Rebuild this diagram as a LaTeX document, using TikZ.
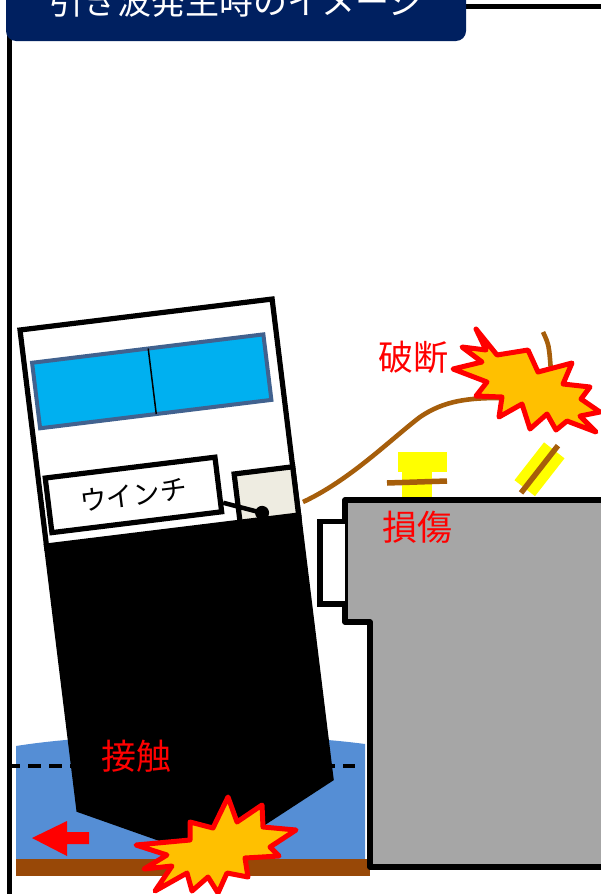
\documentclass[tikz,border=0pt]{standalone}
\usepackage{fontspec}
\newfontfamily\jpfont{Noto Sans CJK JP}
\definecolor{navy}{HTML}{002060}
\definecolor{seawater}{HTML}{558ED5}
\definecolor{seabed}{HTML}{984807}
\definecolor{piergray}{HTML}{A6A6A6}
\definecolor{winblue}{HTML}{00B0F0}
\definecolor{winframe}{HTML}{41628F}
\definecolor{beige}{HTML}{EEECE1}
\definecolor{ropebrown}{HTML}{A65E0B}
\definecolor{flashorange}{HTML}{FFC000}
\definecolor{bollardyellow}{HTML}{FFFF00}
\tikzset{
  outline/.style={draw=black, line width=5.2pt},
  flash/.style={draw=red, line width=5pt, fill=flashorange, line join=round},
  ropeline/.style={draw=ropebrown, line width=4.6pt},
  barline/.style={draw=ropebrown, line width=5.5pt},
  redlabel/.style={text=red, inner sep=0pt, font=\jpfont\fontsize{35}{35}\selectfont},
}
\begin{document}
\begin{tikzpicture}[x=1pt, y=-1pt]
\useasboundingbox (0,0) rectangle (600,894);

% frame and title plate
\draw[line width=5pt] (9,20) -- (9,900);
\draw[line width=5pt] (440,6.5) -- (610,6.5);
\fill[navy, rounded corners=10pt] (6,-20) rectangle (466,41);
\node[text=white, anchor=base, inner sep=0pt, font=\jpfont\fontsize{34}{34}\selectfont]
  (title) at (236,14) {引き波発生時のイメージ};

% sea, waterline and sea floor
\fill[seawater] (16,746) .. controls (60,739) and (120,735) .. (190,735)
  .. controls (260,735) and (320,738) .. (365,744) -- (365,860) -- (16,860) -- cycle;
\draw[line width=3.5pt, dash pattern=on 13pt off 8pt] (7,766) -- (355,766);
\fill[seabed] (16,859) rectangle (370,876);

% quay wall with fender
\draw[outline, fill=piergray, line join=round] (345,500) -- (620,500) -- (620,867)
  -- (370,867) -- (370,622) -- (345,622) -- cycle;
\draw[outline, fill=white] (345,521.5) -- (320,521.5) -- (320,604) -- (345,604);

% heeling vessel
\begin{scope}[shift={(20,330)}, rotate=7]
  \draw[outline, fill=white] (0,0) -- (254,0) -- (254,220) -- (0,220) -- cycle;
  \draw[line width=4pt, draw=winframe, fill=winblue]
    (8,34) -- (241,34) -- (241,100) -- (8,100) -- cycle;
  \draw[line width=1.5pt] (125,34) -- (125,100);
  \node[outline, fill=white, transform shape, minimum width=171pt, minimum height=55pt,
        inner sep=0pt, font=\jpfont\fontsize{27}{27}\selectfont]
    (winch) at (92.5,177.5) {ウインチ};
  \draw[outline, fill=beige] (195,220) -- (195,169) -- (254,169) -- (254,220);
  \fill[black] (-2.6,215) -- (256.6,215) -- (256.6,485) -- (126,549)
    -- (-2.6,485) -- cycle;
  \node[circle, fill=black, minimum size=14pt, inner sep=0pt] (drum) at (218,211) {};
  \draw[line width=4.5pt] (winch.-12) -- (drum.center);
\end{scope}

% mooring line, parted at the bollard
\coordinate (lineA) at (303,502);
\coordinate (lineB) at (500,398);
\draw[ropeline] (lineA) .. controls (350,480) and (390,440) .. (420,417)
  .. controls (445,400) and (470,398) .. (lineB);
\coordinate (tailA) at (543,332);
\coordinate (tailB) at (551,372);
\draw[ropeline] (tailA) .. controls (549,345) .. (tailB);

% bollards
\fill[bollardyellow] (398,452) rectangle (447,472);
\fill[bollardyellow] (402,471) rectangle (432,497);
\draw[barline] (387,483) -- (447,481);
\begin{scope}[shift={(539.5,469.25)}, rotate=52]
  \fill[bollardyellow] (-24,-13) -- (24,-13) -- (24,13) -- (-24,13) -- cycle;
  \draw[barline] (-30,0) -- (30,0);
\end{scope}

% bursts
\draw[flash] (476,329) -- (497,355) -- (528,350) -- (538,372) -- (572,363) -- (563,384)
  -- (590,387) -- (581,399) -- (600,412) -- (580,416) -- (596,432) -- (567,421)
  -- (556,430) -- (547,414) -- (530,429) -- (522,404) -- (499,417) -- (502,397)
  -- (476,396) -- (487,382) -- (453,369) -- (482,362) -- (462,347) -- (486,350) -- cycle;
\draw[flash] (228,797) -- (237,822) -- (262,805) -- (263,827) -- (296,830) -- (270,847)
  -- (279,856) -- (245,858) -- (248,877) -- (227,873) -- (218,893) -- (208,877)
  -- (192,891) -- (187,873) -- (155,891) -- (172,866) -- (144,869) -- (167,855)
  -- (136,845) -- (190,840) -- (190,822) -- (213,828) -- cycle;

% labels and drift arrow
\node[redlabel] (breaklabel) at (413,357) {破断};
\node[redlabel] (damagelabel) at (417,527) {損傷};
\node[redlabel] (contactlabel) at (136,756) {接触};
\fill[red] (32,838) -- (67,821) -- (67,832) -- (89,832) -- (89,844) -- (67,844)
  -- (67,856) -- cycle;
\end{tikzpicture}
\end{document}
